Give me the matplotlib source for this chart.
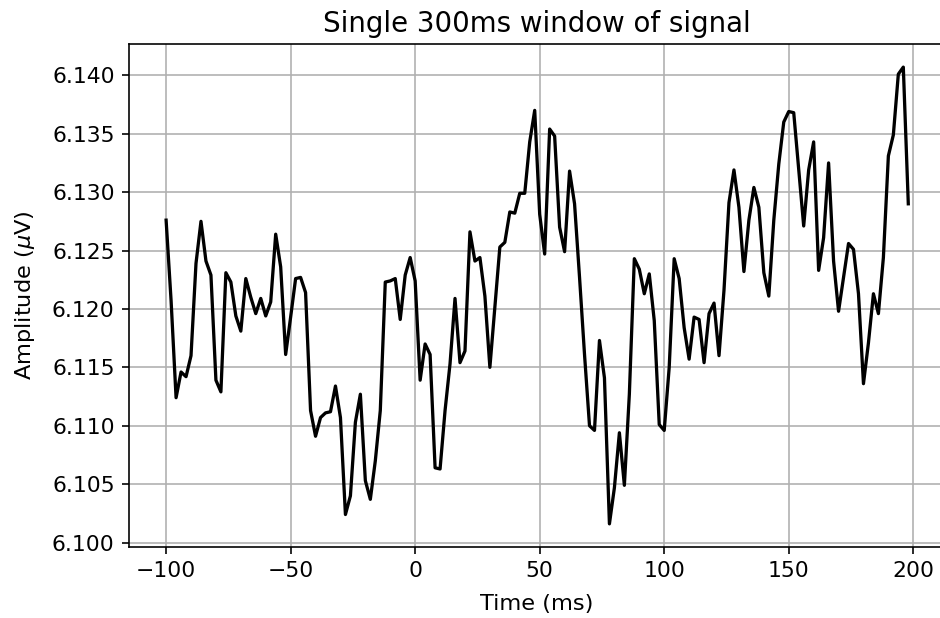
import numpy as np
import matplotlib
matplotlib.use("Agg")
import matplotlib.pyplot as plt
from matplotlib.ticker import FormatStrFormatter, MultipleLocator

time_ms = list(range(-100, 200, 2))
amplitude = [
    6.1276, 6.1207, 6.1124, 6.1146, 6.1142, 6.1160, 6.1239, 6.1275, 6.1241, 6.1229,
    6.1139, 6.1129, 6.1231, 6.1223, 6.1194, 6.1181, 6.1226, 6.1210, 6.1196, 6.1209,
    6.1194, 6.1206, 6.1264, 6.1236, 6.1161, 6.1193, 6.1226, 6.1227, 6.1214, 6.1113,
    6.1091, 6.1107, 6.1111, 6.1112, 6.1134, 6.1107, 6.1024, 6.1040, 6.1103, 6.1127,
    6.1053, 6.1037, 6.1070, 6.1113, 6.1223, 6.1224, 6.1226, 6.1191, 6.1229, 6.1244,
    6.1224, 6.1139, 6.1170, 6.1161, 6.1064, 6.1063, 6.1113, 6.1153, 6.1209, 6.1154,
    6.1164, 6.1266, 6.1241, 6.1244, 6.1211, 6.1150, 6.1201, 6.1253, 6.1257, 6.1283,
    6.1282, 6.1299, 6.1299, 6.1343, 6.1370, 6.1281, 6.1247, 6.1354, 6.1348, 6.1270,
    6.1249, 6.1318, 6.1290, 6.1227, 6.1161, 6.1100, 6.1096, 6.1173, 6.1141, 6.1016,
    6.1047, 6.1094, 6.1049, 6.1127, 6.1243, 6.1234, 6.1213, 6.1230, 6.1190, 6.1101,
    6.1096, 6.1150, 6.1243, 6.1226, 6.1184, 6.1157, 6.1193, 6.1191, 6.1154, 6.1196,
    6.1205, 6.1160, 6.1216, 6.1291, 6.1319, 6.1287, 6.1232, 6.1276, 6.1304, 6.1287,
    6.1231, 6.1211, 6.1276, 6.1324, 6.1360, 6.1369, 6.1368, 6.1319, 6.1271, 6.1319,
    6.1343, 6.1233, 6.1261, 6.1325, 6.1241, 6.1198, 6.1227, 6.1256, 6.1251, 6.1213,
    6.1136, 6.1171, 6.1213, 6.1196, 6.1244, 6.1331, 6.1349, 6.1401, 6.1407, 6.1290,
]

title = "Single 300ms window of signal"
xlabel = "Time (ms)"
ylabel = r"Amplitude ($\mu$V)"

DPI = 147
fig = plt.figure(figsize=(940 / DPI, 618 / DPI), dpi=DPI)
ax = fig.add_axes([129 / 940, (618 - 546.7) / 618, (945.4 - 129) / 940, (546.7 - 44.3) / 618])
ax.plot(time_ms, amplitude, color="black", linewidth=1.6)
ax.grid(True, color="#b0b0b0", linewidth=0.8)
ax.xaxis.set_major_locator(MultipleLocator(50))
ax.yaxis.set_major_locator(MultipleLocator(0.005))
ax.yaxis.set_major_formatter(FormatStrFormatter("%.3f"))
ax.tick_params(labelsize=10.7)
ax.set_title(title, fontsize=13.5, pad=6)
ax.set_xlabel(xlabel, fontsize=11, labelpad=6.5)
ax.set_ylabel(ylabel, fontsize=11, labelpad=7.5)
fig.savefig("out.png", dpi=DPI)
